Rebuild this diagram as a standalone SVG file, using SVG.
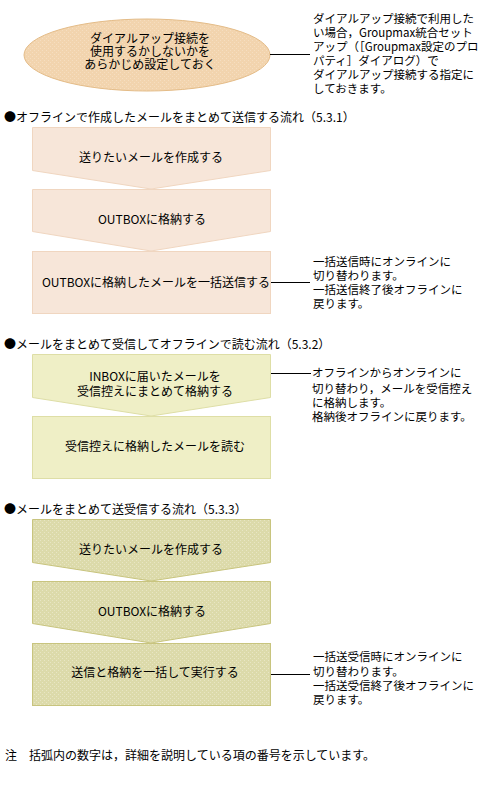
<svg xmlns="http://www.w3.org/2000/svg" width="479" height="791" viewBox="0 0 479 791">
<defs>
<pattern id="dots" width="4" height="4" patternUnits="userSpaceOnUse">
<rect width="4" height="4" fill="#DCDAAA"/>
<rect x="0" y="0" width="1" height="1" fill="#E8E6C4"/>
<rect x="2" y="2" width="1" height="1" fill="#E8E6C4"/>
</pattern>
<pattern id="dots2" width="4" height="4" patternUnits="userSpaceOnUse">
<rect width="4" height="4" fill="#F2D4AE"/>
<rect x="0" y="0" width="1" height="1" fill="#F6DEC0"/>
<rect x="2" y="2" width="1" height="1" fill="#F6DEC0"/>
</pattern>
</defs>
<style>
text{font-family:"Noto Sans CJK JP","Noto Sans CJK SC",sans-serif;font-size:12px;fill:#000}
.c{text-anchor:middle}
.n{font-size:11.5px}
.s1{fill:#F7E6D9;stroke:#F0D6C0;stroke-width:1}
.s2{fill:#EFEFC6;stroke:#DEDEA6;stroke-width:1}
.s3{fill:url(#dots);stroke:#C8C47E;stroke-width:1}
.ln{stroke:#000;stroke-width:1;fill:none}
</style>

<g id="dialup">
<ellipse cx="147" cy="55" rx="123" ry="36" fill="url(#dots2)" stroke="#E4BC88" stroke-width="1"/>
<text class="c" x="150" y="43">ダイアルアップ接続を</text>
<text class="c" x="150" y="56">使用するかしないかを</text>
<text class="c" x="150" y="69">あらかじめ設定しておく</text>
</g>
<g id="dialup-note">
<text class="n" x="313" y="23">ダイアルアップ接続で利用した</text>
<text class="n" x="313" y="37">い場合，Groupmax統合セット</text>
<text class="n" x="313" y="51">アップ（［Groupmax設定のプロ</text>
<text class="n" x="313" y="65">パティ］ダイアログ）で</text>
<text class="n" x="313" y="79">ダイアルアップ接続する指定に</text>
<text class="n" x="313" y="93">しておきます。</text>
</g>

<g id="h1"><text x="4" y="122">●オフラインで作成したメールをまとめて送信する流れ（5.3.1）</text></g>
<g id="a1">
<path class="s1" d="M32.5,127.5 H270.5 V170.5 L151,189 L32.5,170.5 Z"/>
<text class="c" x="151" y="162">送りたいメールを作成する</text>
</g>
<g id="a2">
<path class="s1" d="M32.5,189.5 H270.5 V231.5 L151,251 L32.5,231.5 Z"/>
<text class="c" x="152" y="224">OUTBOXに格納する</text>
</g>
<g id="a3">
<rect class="s1" x="32.5" y="251.5" width="238" height="62"/>
<text class="c" x="156" y="287">OUTBOXに格納したメールを一括送信する</text>
</g>
<g id="a3-note">
<text class="n" x="313" y="266">一括送信時にオンラインに</text>
<text class="n" x="313" y="280">切り替わります。</text>
<text class="n" x="313" y="294">一括送信終了後オフラインに</text>
<text class="n" x="313" y="308">戻ります。</text>
</g>

<g id="h2"><text x="4" y="349">●メールをまとめて受信してオフラインで読む流れ（5.3.2）</text></g>
<g id="b1">
<path class="s2" d="M32.5,354.5 H270.5 V397.5 L151,416 L32.5,397.5 Z"/>
<text class="c" x="155" y="381">INBOXに届いたメールを</text>
<text class="c" x="155" y="396">受信控えにまとめて格納する</text>
</g>
<g id="b2">
<rect class="s2" x="32.5" y="416.5" width="238" height="62"/>
<text class="c" x="155" y="451">受信控えに格納したメールを読む</text>
</g>
<g id="b1-note">
<text class="n" x="312" y="377">オフラインからオンラインに</text>
<text class="n" x="312" y="393">切り替わり，メールを受信控え</text>
<text class="n" x="312" y="407">に格納します。</text>
<text class="n" x="312" y="421">格納後オフラインに戻ります。</text>
</g>

<g id="h3"><text x="4" y="514">●メールをまとめて送受信する流れ（5.3.3）</text></g>
<g id="c1">
<path class="s3" d="M32.5,519.5 H270.5 V562.5 L151,581 L32.5,562.5 Z"/>
<text class="c" x="151" y="554">送りたいメールを作成する</text>
</g>
<g id="c2">
<path class="s3" d="M32.5,581.5 H270.5 V623.5 L151,643 L32.5,623.5 Z"/>
<text class="c" x="152" y="616">OUTBOXに格納する</text>
</g>
<g id="c3">
<rect class="s3" x="32.5" y="643.5" width="238" height="62"/>
<text class="c" x="155" y="677">送信と格納を一括して実行する</text>
</g>
<g id="c3-note">
<text class="n" x="313" y="661">一括送受信時にオンラインに</text>
<text class="n" x="313" y="676">切り替わります。</text>
<text class="n" x="313" y="690">一括送受信終了後オフラインに</text>
<text class="n" x="313" y="704">戻ります。</text>
</g>

<g id="connectors">
<line class="ln" x1="270" y1="54.5" x2="310" y2="54.5"/>
<line class="ln" x1="271" y1="282.5" x2="310" y2="282.5"/>
<line class="ln" x1="271" y1="373.5" x2="311" y2="373.5"/>
<line class="ln" x1="271" y1="674.5" x2="310" y2="674.5"/>
</g>

<g id="footnote"><text x="5" y="760">注　括弧内の数字は，詳細を説明している項の番号を示しています。</text></g>
</svg>
